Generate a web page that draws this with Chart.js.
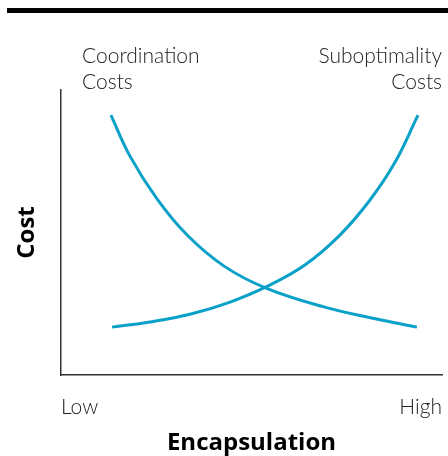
<!DOCTYPE html>
<html>
<head>
<meta charset="utf-8">
<script src="https://cdn.jsdelivr.net/npm/chart.js@4/dist/chart.umd.min.js"></script>
<style>
html,body{margin:0;padding:0;background:#fff;}
#wrap{width:448px;height:456px;position:relative;}
</style>
</head>
<body>
<div id="wrap"><canvas id="c" width="448" height="456"></canvas></div>
<script>
// Data (x: encapsulation 0-100, y: cost 0-100)
const coordX = [13.1, 18.1, 25.2, 33.1, 42.8, 53.8, 69.0, 82.2, 93.4];
const coordY = [91.2, 76.8, 61.8, 49.1, 38.2, 30.5, 23.9, 19.8, 16.8];
const subX = [13.4, 23.4, 34.1, 44.4, 53.8, 64.0, 73.2, 81.1, 87.7, 93.7];
const subY = [16.8, 18.6, 21.4, 25.6, 30.9, 38.6, 49.1, 61.4, 74.7, 91.2];
const xTickLabels = ['Low', 'High'];
const seriesLabels = [['Coordination', 'Costs'], ['Suboptimality', 'Costs']];
const xTitle = 'Encapsulation';
const yTitle = 'Cost';

const LINE = '#0aa1c8';
const FONT = 'Lato';
const BOLD = '"Open Sans"';

const pts = (xs, ys) => xs.map((x, i) => ({x, y: ys[i]}));

const decor = {
  id: 'decor',
  beforeDraw(chart) {
    const ctx = chart.ctx;
    ctx.save();
    ctx.fillStyle = '#000';
    ctx.fillRect(7, 8, 441, 5);
    ctx.restore();
  },
  afterDraw(chart) {
    const ctx = chart.ctx;
    const ca = chart.chartArea;
    ctx.save();
    ctx.fillStyle = '#222';
    ctx.font = '300 21px ' + FONT;
    ctx.textBaseline = 'alphabetic';
    ctx.textAlign = 'left';
    ctx.fillText(seriesLabels[0][0], 82, 63);
    ctx.fillText(seriesLabels[0][1], 82, 89);
    ctx.textAlign = 'right';
    ctx.fillText(seriesLabels[1][0], ca.right, 63);
    ctx.fillText(seriesLabels[1][1], ca.right, 89);
    ctx.restore();
  }
};

new Chart(document.getElementById('c'), {
  type: 'line',
  data: {
    datasets: [
      {data: pts(coordX, coordY), borderColor: LINE, borderWidth: 3, pointRadius: 0, tension: 0.4, fill: false},
      {data: pts(subX, subY), borderColor: LINE, borderWidth: 3, pointRadius: 0, tension: 0.4, fill: false}
    ]
  },
  options: {
    responsive: false,
    animation: false,
    devicePixelRatio: 1,
    layout: {padding: {top: 90, right: 6, left: 0, bottom: 0}},
    plugins: {legend: {display: false}, tooltip: {enabled: false}},
    scales: {
      x: {
        type: 'linear', min: 0, max: 100,
        afterBuildTicks(scale) { scale.ticks = [{value: 0}, {value: 100}]; },
        afterFit(scale) { scale.height = 81; scale.paddingLeft = 0; scale.paddingRight = 0; },
        grid: {display: false, drawTicks: false},
        border: {display: true, color: '#333', width: 1.5},
        ticks: {
          align: 'inner', padding: 20, color: '#222',
          font: {family: FONT, size: 21, weight: '300'},
          callback: (v) => v === 0 ? xTickLabels[0] : xTickLabels[1]
        },
        title: {display: true, text: xTitle, color: '#000', font: {family: BOLD, size: 24, weight: 'bold', lineHeight: 1.1}, padding: {top: 0, bottom: 0}}
      },
      y: {
        type: 'linear', min: 0, max: 100,
        afterFit(scale) { scale.width = 61; },
        grid: {display: false, drawTicks: false},
        border: {display: true, color: '#333', width: 1.5},
        ticks: {display: false},
        title: {display: true, text: yTitle, color: '#000', font: {family: BOLD, size: 24, weight: 'bold', lineHeight: 1.1}, padding: {top: 13.8, bottom: 0}}
      }
    }
  },
  plugins: [decor]
});
</script>
</body>
</html>
